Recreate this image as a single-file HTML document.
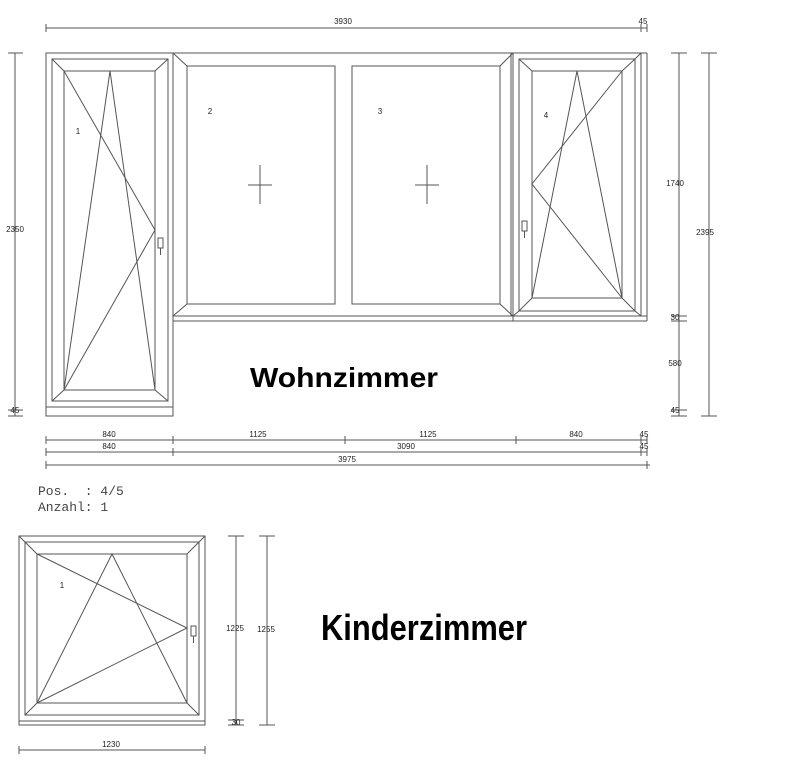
<!DOCTYPE html>
<html><head><meta charset="utf-8"><style>
html,body{margin:0;padding:0;background:#fff;width:794px;height:783px;overflow:hidden}
svg{display:block}
.l{stroke:#555;stroke-width:1;fill:none}
.t{font-family:"Liberation Sans",sans-serif;font-size:8px;fill:#222;text-anchor:middle}
</style></head><body>
<svg width="794" height="783" viewBox="0 0 794 783" xmlns="http://www.w3.org/2000/svg">
<g class="l">
<line x1="46" y1="28" x2="647" y2="28"/><line x1="46" y1="24" x2="46" y2="32"/><line x1="641" y1="24" x2="641" y2="32"/><line x1="647" y1="24" x2="647" y2="32"/>
<rect x="46" y="53" width="127" height="363"/>
<line x1="46" y1="407" x2="173" y2="407"/>
<rect x="52" y="59" width="116" height="342"/>
<rect x="64" y="71" width="91" height="319"/>
<line x1="52" y1="59" x2="64" y2="71"/><line x1="168" y1="59" x2="155" y2="71"/><line x1="52" y1="401" x2="64" y2="390"/><line x1="168" y1="401" x2="155" y2="390"/>
<polyline points="64,71 155,230 64,390"/>
<polyline points="64,390 110,71 155,390"/>
<rect x="158" y="238" width="5" height="10"/><line x1="160.5" y1="248" x2="160.5" y2="255"/>
<line x1="173" y1="53" x2="641" y2="53"/>
<line x1="173" y1="316" x2="647" y2="316"/><line x1="173" y1="321" x2="647" y2="321"/>
<rect x="187" y="66" width="148" height="238"/>
<rect x="352" y="66" width="148" height="238"/>
<line x1="173" y1="53" x2="187" y2="66"/><line x1="173" y1="316" x2="187" y2="304"/>
<line x1="513" y1="53" x2="500" y2="66"/><line x1="513" y1="316" x2="500" y2="304"/>
<line x1="513" y1="53" x2="513" y2="321"/><line x1="511" y1="53" x2="511" y2="316"/>
<line x1="248" y1="185" x2="272" y2="185"/><line x1="260" y1="165" x2="260" y2="204"/>
<line x1="415" y1="185" x2="439" y2="185"/><line x1="427" y1="165" x2="427" y2="204"/>
<line x1="641" y1="53" x2="641" y2="316"/><line x1="647" y1="53" x2="647" y2="321"/><line x1="641" y1="53" x2="647" y2="53"/>
<rect x="519" y="59" width="116" height="252"/>
<rect x="532" y="71" width="90" height="227"/>
<line x1="519" y1="59" x2="532" y2="71"/><line x1="635" y1="59" x2="622" y2="71"/><line x1="519" y1="311" x2="532" y2="298"/><line x1="635" y1="311" x2="622" y2="298"/>
<line x1="513" y1="316" x2="519" y2="311"/><line x1="641" y1="53" x2="635" y2="59"/><line x1="641" y1="316" x2="635" y2="311"/>
<polyline points="622,71 532,184 622,298"/>
<polyline points="532,298 577,71 622,298"/>
<rect x="522" y="221" width="5" height="10"/><line x1="524.5" y1="231" x2="524.5" y2="238"/>
<line x1="15" y1="53" x2="15" y2="416"/><line x1="8" y1="53" x2="23" y2="53"/><line x1="8" y1="410" x2="23" y2="410"/><line x1="8" y1="416" x2="23" y2="416"/>
<line x1="679" y1="53" x2="679" y2="416"/><line x1="671" y1="53" x2="687" y2="53"/><line x1="671" y1="316" x2="687" y2="316"/><line x1="671" y1="321" x2="687" y2="321"/><line x1="671" y1="410" x2="687" y2="410"/><line x1="671" y1="416" x2="687" y2="416"/>
<line x1="709" y1="53" x2="709" y2="416"/><line x1="701" y1="53" x2="717" y2="53"/><line x1="701" y1="416" x2="717" y2="416"/>
<line x1="46" y1="440" x2="647" y2="440"/>
<line x1="46" y1="436" x2="46" y2="444"/><line x1="173" y1="436" x2="173" y2="444"/><line x1="345" y1="436" x2="345" y2="444"/><line x1="516" y1="436" x2="516" y2="444"/><line x1="641" y1="436" x2="641" y2="444"/><line x1="647" y1="436" x2="647" y2="444"/>
<line x1="46" y1="452" x2="647" y2="452"/>
<line x1="46" y1="448" x2="46" y2="456"/><line x1="173" y1="448" x2="173" y2="456"/><line x1="641" y1="448" x2="641" y2="456"/><line x1="647" y1="448" x2="647" y2="456"/>
<line x1="46" y1="465" x2="650" y2="465"/><line x1="46" y1="461" x2="46" y2="469"/><line x1="647" y1="461" x2="647" y2="469"/>
<rect x="19" y="536" width="186" height="189"/>
<line x1="19" y1="721" x2="205" y2="721"/>
<rect x="25" y="542" width="174" height="173"/>
<rect x="37" y="554" width="150" height="149"/>
<line x1="19" y1="536" x2="37" y2="554"/><line x1="205" y1="536" x2="187" y2="554"/><line x1="25" y1="715" x2="37" y2="703"/><line x1="199" y1="715" x2="187" y2="703"/>
<polyline points="37,554 187,628 37,703"/>
<polyline points="37,703 112,554 187,703"/>
<rect x="191" y="626" width="5" height="10"/><line x1="193.5" y1="636" x2="193.5" y2="643"/>
<line x1="236" y1="536" x2="236" y2="725"/><line x1="228" y1="536" x2="244" y2="536"/><line x1="228" y1="720" x2="244" y2="720"/><line x1="228" y1="725" x2="244" y2="725"/>
<line x1="267" y1="536" x2="267" y2="725"/><line x1="259" y1="536" x2="275" y2="536"/><line x1="259" y1="725" x2="275" y2="725"/>
<line x1="19" y1="750" x2="205" y2="750"/><line x1="19" y1="746" x2="19" y2="754"/><line x1="205" y1="746" x2="205" y2="754"/>
</g>
<g class="t">
<text x="343" y="24">3930</text><text x="643" y="24">45</text>
<text x="78" y="134">1</text><text x="210" y="114">2</text><text x="380" y="114">3</text><text x="546" y="118">4</text>
<text x="15" y="232">2350</text><text x="15" y="413">45</text>
<text x="675" y="186">1740</text><text x="675" y="320">30</text><text x="675" y="366">580</text><text x="675" y="413">45</text>
<text x="705" y="235">2395</text>
<text x="109" y="437">840</text><text x="258" y="437">1125</text><text x="428" y="437">1125</text><text x="576" y="437">840</text><text x="644" y="437">45</text>
<text x="109" y="449">840</text><text x="406" y="449">3090</text><text x="644" y="449">45</text>
<text x="347" y="462">3975</text>
<text x="62" y="588">1</text>
<text x="235" y="631">1225</text><text x="266" y="632">1255</text><text x="236" y="725">30</text>
<text x="111" y="747">1230</text>
</g>
<text x="38" y="495" font-family="Liberation Mono,monospace" font-size="13" fill="#444" xml:space="preserve">Pos.  : 4/5</text>
<text x="38" y="511" font-family="Liberation Mono,monospace" font-size="13" fill="#444">Anzahl: 1</text>
<text x="250" y="387" font-family="Liberation Sans,sans-serif" font-weight="bold" font-size="28" fill="#000" textLength="188" lengthAdjust="spacingAndGlyphs">Wohnzimmer</text>
<text x="321" y="640" font-family="Liberation Sans,sans-serif" font-weight="bold" font-size="36" fill="#000" textLength="206" lengthAdjust="spacingAndGlyphs">Kinderzimmer</text>
</svg>
</body></html>
